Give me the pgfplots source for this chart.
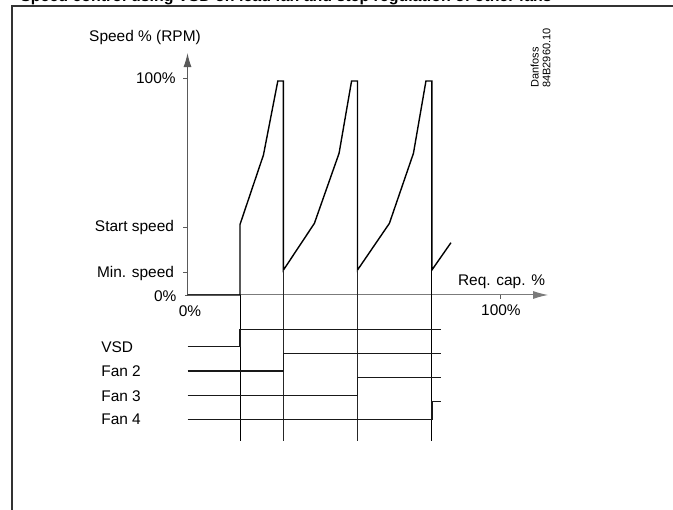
\documentclass[border=0pt]{standalone}
\usepackage{fontspec}
\setmainfont{Liberation Sans}[Scale=1.55]
\newfontfamily\smallfont{Liberation Sans}[Scale=1.1]
\newfontfamily\titlefont{Liberation Sans Bold}[Scale=1.6]
\usepackage{pgfplots}
\pgfplotsset{compat=1.18}
\usetikzlibrary{arrows.meta}
\definecolor{txt}{HTML}{2B2B2B}
\definecolor{axgray}{HTML}{5A5A5A}
\begin{document}
\begin{tikzpicture}
\useasboundingbox (0,0) rectangle (673bp,510bp);
\clip (0,0) rectangle (673bp,510bp);
\begin{axis}[at={(0,0)}, anchor=south west, scale only axis,
  width=673bp, height=510bp,
  xmin=-60, xmax=155.36, ymin=-99.08, ymax=135.94,
  axis lines=none, clip=false,
  every node/.style={inner sep=0pt, text=txt}]
% title (clipped at the top edge, as in the reference)
\node[anchor=base west, text=black, font=\titlefont] at (axis cs:-55.2,135.1) {Speed control using VSD on lead fan and step regulation of other fans};
% frame
\addplot[black!80, line width=1.3bp] coordinates {(-56.16,-110) (-56.16,133.2) (170,133.2)};
% axes
\addplot[axgray, line width=1bp, -{Latex[length=14bp,width=8bp]}] coordinates {(0,0) (0,111.5)};
\addplot[axgray!80, line width=1bp, -{Latex[length=15bp,width=8bp]}] coordinates {(0,0) (115.4,0)};
% ticks
\addplot[axgray, line width=0.8bp] coordinates {(-1.4,100) (0,100)};
\addplot[axgray, line width=0.8bp] coordinates {(-1.4,31.3) (0,31.3)};
\addplot[axgray, line width=0.8bp] coordinates {(-1.4,10.3) (0,10.3)};
\addplot[axgray, line width=0.8bp] coordinates {(-0.8,0) (0,0)};
\addplot[axgray, line width=0.8bp] coordinates {(100,0) (100,-1.8)};
% speed curve
\addplot[black, line width=1.4bp] coordinates {
 (0,0) (16.8,0) (16.8,32.5) (24.3,64.5) (28.9,98.6) (30.7,98.6) (30.7,11.5)
 (40.6,33.0) (48.5,65.3) (52.5,98.6) (54.4,98.6) (54.4,11.5)
 (64.6,33.0) (72.3,65.3) (76.3,98.6) (78.2,98.6) (78.2,11.5) (84.3,24.1)};
% switching verticals
\addplot[black, line width=1bp] coordinates {(16.8,0) (16.8,-67.3)};
\addplot[black!85, line width=1bp] coordinates {(30.7,11.5) (30.7,-67.3)};
\addplot[black!85, line width=1bp] coordinates {(54.4,11.5) (54.4,-67.3)};
\addplot[black, line width=1bp] coordinates {(78.2,11.5) (78.2,-67.3)};
% timing lines
\addplot[black!90, line width=1.3bp] coordinates {(0,-23.8) (16.8,-23.8) (16.8,-15.8) (81.1,-15.8)};
\addplot[black!90, line width=1.3bp] coordinates {(0,-35.0) (30.7,-35.0) (30.7,-26.9) (81.1,-26.9)};
\addplot[black!90, line width=1.3bp] coordinates {(0,-46.2) (54.4,-46.2) (54.4,-38.1) (81.1,-38.1)};
\addplot[black!90, line width=1.3bp] coordinates {(0,-57.3) (78.2,-57.3) (78.2,-49.2) (81.1,-49.2)};
% labels
\node[anchor=base] at (axis cs:-13.6,116.96) {Speed \% (RPM)};
\node[anchor=base east] at (axis cs:-2.08,97.47) {100\%};
\node[anchor=base east] at (axis cs:-2.62,29.17) {Start speed};
\node[anchor=base east] at (axis cs:-2.62,8.29) {Min. speed};
\node[anchor=base east] at (axis cs:-1.86,-3.09) {0\%};
\node[anchor=base] at (axis cs:0.8,-10.0) {0\%};
\node[anchor=base] at (axis cs:100.3,-9.68) {100\%};
\node[anchor=base] at (axis cs:100.5,4.15) {Req. cap. \%};
\node[anchor=base west] at (axis cs:-29.28,-26.59) {VSD};
\node[anchor=base west] at (axis cs:-29.28,-37.79) {Fan 2};
\node[anchor=base west] at (axis cs:-29.28,-48.99) {Fan 3};
\node[anchor=base west] at (axis cs:-29.28,-59.91) {Fan 4};
\node[rotate=90, anchor=south west, align=left, font=\smallfont] at (axis cs:117.9,93.1) {Danfoss\\84B2960.10};
\end{axis}
\end{tikzpicture}
\end{document}
